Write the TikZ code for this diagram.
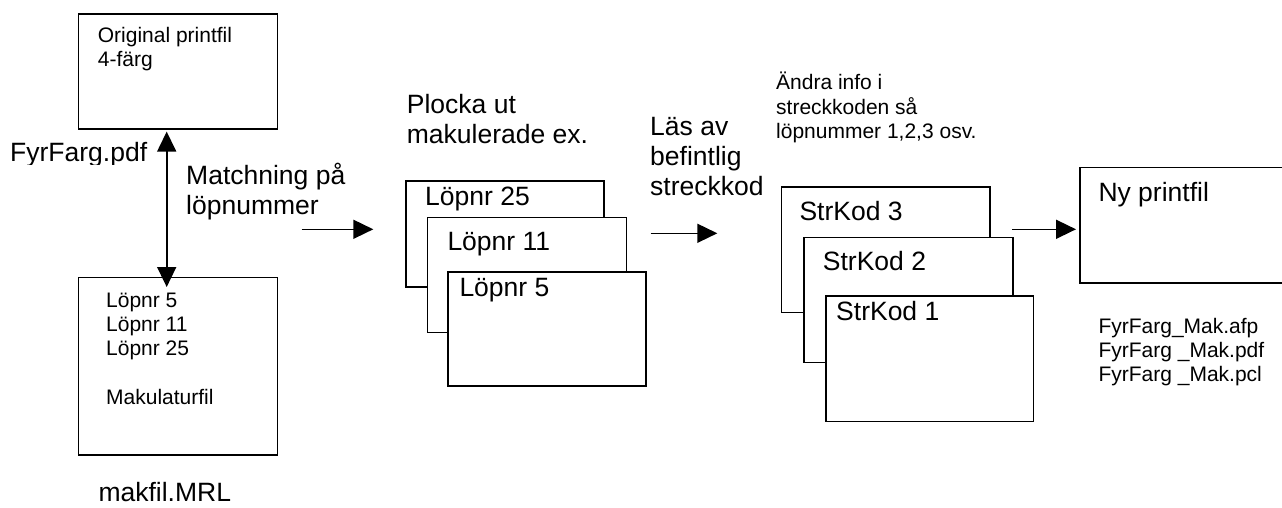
\documentclass[tikz,border=0pt]{standalone}
\usepackage{fontspec}
\setmainfont{Liberation Sans}
\usetikzlibrary{arrows.meta}
\tikzset{
  big/.style={font=\fontsize{26.5}{30}\selectfont},
  small/.style={font=\fontsize{21}{24.2}\selectfont},
  % base west of a multi-line node sits on the baseline of its last line
  txt/.style={anchor=base west, inner sep=0pt, align=left},
  frame/.style={draw, fill=white, line width=1.6pt, anchor=north west, inner sep=0pt},
  flow/.style={line width=1.6pt, -{Triangle[length=20pt,width=19pt]}},
}
\begin{document}
\begin{tikzpicture}[x=1pt, y=-1pt]
  \clip (0,0) rectangle (1282,508);
  \fill[white] (0,0) rectangle (1282,508);

  % source files
  \node[frame, minimum width=199pt, minimum height=115pt] (orig) at (77.7,13.3) {};
  \node[txt, small] (origtxt) at (97.7,66.7) {Original printfil\\4-färg};
  \begin{scope}
    \clip (0,120) rectangle (160,164.3);
    \node[txt, big] (pdf) at (10,161.7) {FyrFarg.pdf};
  \end{scope}

  \node[frame, minimum width=199pt, minimum height=177.3pt] (mak) at (77.7,276.7) {};
  \node[txt, small] (maktxt) at (106,404.3) {Löpnr 5\\Löpnr 11\\Löpnr 25\\[24.2pt]Makulaturfil};
  \node[txt, big] (mrl) at (98.3,501.7) {makfil.MRL};

  \draw[line width=1.6pt, {Triangle[length=20pt,width=19pt]}-{Triangle[length=20pt,width=19pt]}]
    ([xshift=-11.3pt,yshift=-1.7pt]orig.south) -- ([xshift=-11.3pt,yshift=-10.3pt]mak.north);

  \node[txt, big] (match) at (186,214) {Matchning på\\löpnummer};
  \coordinate (a1s) at (301.7,229.3);
  \coordinate (a1e) at (373.3,229.3);
  \draw[flow] (a1s) -- (a1e);

  % extracted copies
  \node[txt, big] (plocka) at (406.7,143.3) {Plocka ut\\makulerade ex.};
  \node[frame, minimum width=198.3pt, minimum height=106pt] (l25) at (405,180) {};
  \node[txt, big] (l25t) at (425,205) {Löpnr 25};
  \node[frame, minimum width=199pt, minimum height=115pt] (l11) at (426.7,216.7) {};
  \node[txt, big] (l11t) at (447.3,250) {Löpnr 11};
  \node[frame, minimum width=198pt, minimum height=114pt] (l5) at (447,271) {};
  \node[txt, big] (l5t) at (459.3,296.7) {Löpnr 5};

  \node[txt, big] (las) at (650,195) {Läs av\\befintlig\\streckkod};
  \coordinate (a2s) at (650.7,233.3);
  \coordinate (a2e) at (717.3,233.3);
  \draw[flow] (a2s) -- (a2e);

  % renumbered barcodes
  \node[txt, small] (andra) at (776,138.3) {Ändra info i\\streckkoden så\\löpnummer 1,2,3 osv.};
  \node[frame, minimum width=208.3pt, minimum height=125.7pt] (s3) at (780.7,186) {};
  \node[txt, big] (s3t) at (799.3,220.7) {StrKod 3};
  \node[frame, minimum width=209pt, minimum height=125pt] (s2) at (803.3,236.7) {};
  \node[txt, big] (s2t) at (822.7,270.7) {StrKod 2};
  \node[frame, minimum width=207.7pt, minimum height=125.7pt] (s1) at (825,295) {};
  \node[txt, big] (s1t) at (836,320.7) {StrKod 1};

  \node[frame, minimum width=260pt, minimum height=115.6pt] (ny) at (1079.3,166.7) {};
  \node[txt, big] (nyt) at (1098.3,201.7) {Ny printfil};
  \coordinate (a3s) at (1012.3,229.3);
  \draw[flow] (a3s) -- ([xshift=-3.3pt]a3s -| ny.west);

  \node[txt, small] (files) at (1098.3,381.7) {FyrFarg\_Mak.afp\\FyrFarg \_Mak.pdf\\FyrFarg \_Mak.pcl};
\end{tikzpicture}
\end{document}
